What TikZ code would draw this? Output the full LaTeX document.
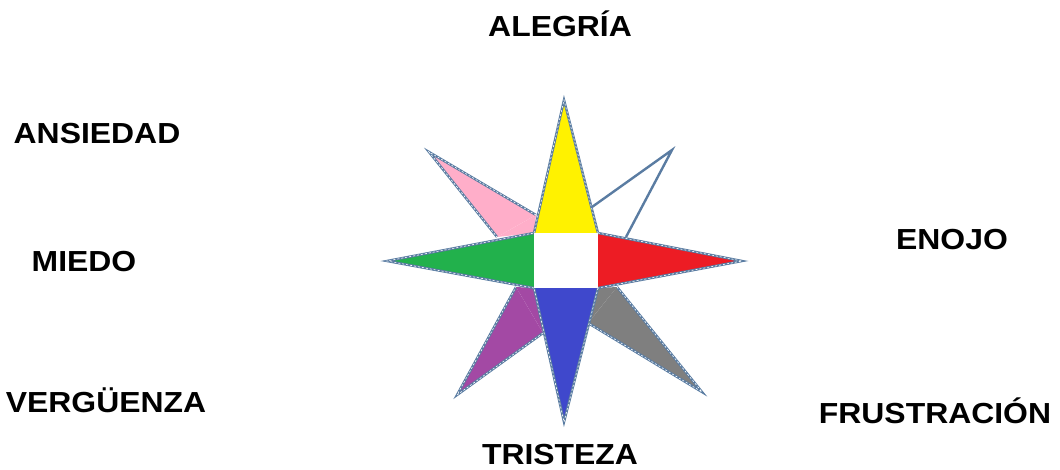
\documentclass[tikz,border=0pt]{standalone}
\usepackage{fontspec}
\setmainfont{Liberation Sans}[FakeStretch=1.1]
\definecolor{edge}{HTML}{5A7CA2}
\definecolor{cyellow}{HTML}{FFF200}
\definecolor{cred}{HTML}{ED1C24}
\definecolor{cblue}{HTML}{3F48CC}
\definecolor{cgreen}{HTML}{22B14C}
\definecolor{cpink}{HTML}{FFAEC9}
\definecolor{cpurple}{HTML}{A349A4}
\definecolor{cgray}{HTML}{7F7F7F}
\tikzset{
  lbl/.style={font=\bfseries\fontsize{29}{32}\selectfont, anchor=base, inner sep=0pt},
  spikeedge/.style={draw=edge, line width=2.4pt, line join=miter},
  whitedash/.style={draw=white, line width=0.6pt, dash pattern=on 2pt off 2pt},
}
\begin{document}
\begin{tikzpicture}[x=1pt,y=-1pt]
\useasboundingbox (0,0) rectangle (1060,470);
% square corners and tips
\coordinate (a) at (534,233); \coordinate (b) at (598,233);
\coordinate (c) at (598,288); \coordinate (d) at (534,288);
\coordinate (tn) at (564,100); \coordinate (te) at (742,261);
\coordinate (ts) at (564,422); \coordinate (tw) at (387,261);
\coordinate (tne) at (672,150); \coordinate (tse) at (702,392);
\coordinate (tsw) at (457,395); \coordinate (tnw) at (429,152);
% diagonal spikes
\foreach \tip/\p/\r/\col in {tnw/{536,215}/{497,237}/cpink, tne/{592,207}/{626,237}/white, tse/{617,287}/{588,323}/cgray, tsw/{543,333}/{516,287}/cpurple}{
  \fill[\col] (\tip) -- (\p) -- (\r) -- cycle;
  \draw[spikeedge] (\p) -- (\tip) -- (\r);
}
\draw[whitedash] (536,215) -- (tnw) -- (497,237);
\draw[whitedash] (617,287) -- (tse) -- (588,323);
\draw[whitedash] (543,333) -- (tsw) -- (516,287);
% inner parts under diagonal spikes
\fill[cpink] (536,215) -- (a) -- (497,237) -- cycle;
\fill[cgray] (617,287) -- (c) -- (588,323) -- cycle;
\fill[cpurple] (543,333) -- (d) -- (516,287) -- cycle;
% cardinal spikes
\fill[cyellow] (a) -- (tn) -- (b) -- cycle;
\fill[cred] (b) -- (te) -- (c) -- cycle;
\fill[cblue] (c) -- (ts) -- (d) -- cycle;
\fill[cgreen] (d) -- (tw) -- (a) -- cycle;
\draw[spikeedge] (a) -- (tn) -- (b);
\draw[spikeedge] (b) -- (te) -- (c);
\draw[spikeedge] (c) -- (ts) -- (d);
\draw[spikeedge] (d) -- (tw) -- (a);
\draw[whitedash] (a) -- (tn) -- (b);
\draw[whitedash] (b) -- (te) -- (c);
\draw[whitedash] (c) -- (ts) -- (d);
\draw[whitedash] (d) -- (tw) -- (a);
\fill[white] (a) rectangle (c);
% labels
\node[lbl] (alegria) at (560,37) {ALEGRÍA};
\node[lbl] (ansiedad) at (97,144) {ANSIEDAD};
\node[lbl] (miedo) at (84,272) {MIEDO};
\node[lbl] (enojo) at (952,250) {ENOJO};
\node[lbl] (verg) at (106,412) {VERGÜENZA};
\node[lbl] (tristeza) at (560,464) {TRISTEZA};
\node[lbl] (frus) at (935,423) {FRUSTRACIÓN};
\end{tikzpicture}
\end{document}
